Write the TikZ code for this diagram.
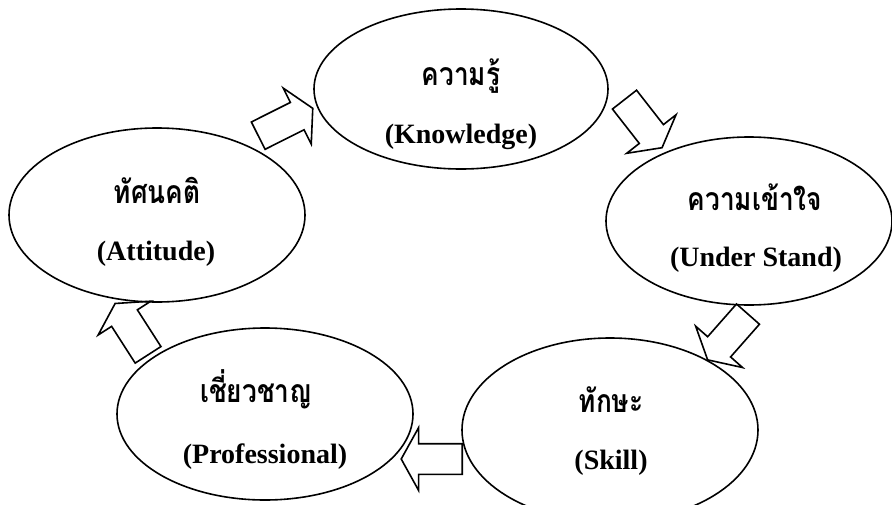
\documentclass[tikz,border=0pt]{standalone}
\usepackage{fontspec}
\setmainfont{Liberation Serif}
\newfontfamily\thaifont[Script=Thai, FakeStretch=0.82]{Loma}
\usetikzlibrary{shapes.geometric,shapes.arrows}

\begin{document}
\begin{tikzpicture}[x=1pt, y=-1pt, line width=1.6pt,
  bubble/.style={draw, ellipse, inner sep=0pt, minimum width=#1},
  th/.style={anchor=base, inner sep=0pt, font=\thaifont\bfseries\fontsize{32}{32}\selectfont},
  en/.style={anchor=base, inner sep=0pt, font=\bfseries\fontsize{28}{28}\selectfont},
  blk/.style={draw, single arrow, anchor=tail, inner xsep=0pt, inner ysep=14.5pt, minimum height=61pt,
    single arrow head extend=16pt, single arrow tip angle=122, rotate=#1}]
  \clip (0,0) rectangle (892,504);
  % ellipses
  \node[bubble=294pt, minimum height=160pt] (know) at (461,89) {};
  \node[bubble=286pt, minimum height=168pt] (under) at (749,221) {};
  \node[bubble=296pt, minimum height=184pt] (skill) at (610,430) {};
  \node[bubble=296pt, minimum height=172pt] (prof) at (265,414) {};
  \node[bubble=296pt, minimum height=174pt] (att) at (157,215) {};
  % texts
  \node[th] (knowTh) at (461,85) {ความรู้};
  \node[en] (knowEn) at (461,143) {(Knowledge)};
  \node[th] (underTh) at (755,210) {ความเข้าใจ};
  \node[en] (underEn) at (756,266) {(Under Stand)};
  \node[th] (skillTh) at (611,412) {ทักษะ};
  \node[en] (skillEn) at (611,469) {(Skill)};
  \node[th] (profTh) at (256,402) {เชี่ยวชาญ};
  \node[en] (profEn) at (265,463) {(Professional)};
  \node[th] (attTh) at (157,203) {ทัศนคติ};
  \node[en] (attEn) at (156,260) {(Attitude)};
  % block arrows
  \node[blk=26.6] (attKnow) at (257.5,136) {};
  \node[blk=-52] (knowUnder) at (624,99) {};
  \node[blk=-131.4] (underSkill) at (748.5,313.5) {};
  \node[blk=180] (skillProf) at (463,459) {};
  \node[blk=122.7] (profAtt) at (148.5,355.5) {};
\end{tikzpicture}
\end{document}
